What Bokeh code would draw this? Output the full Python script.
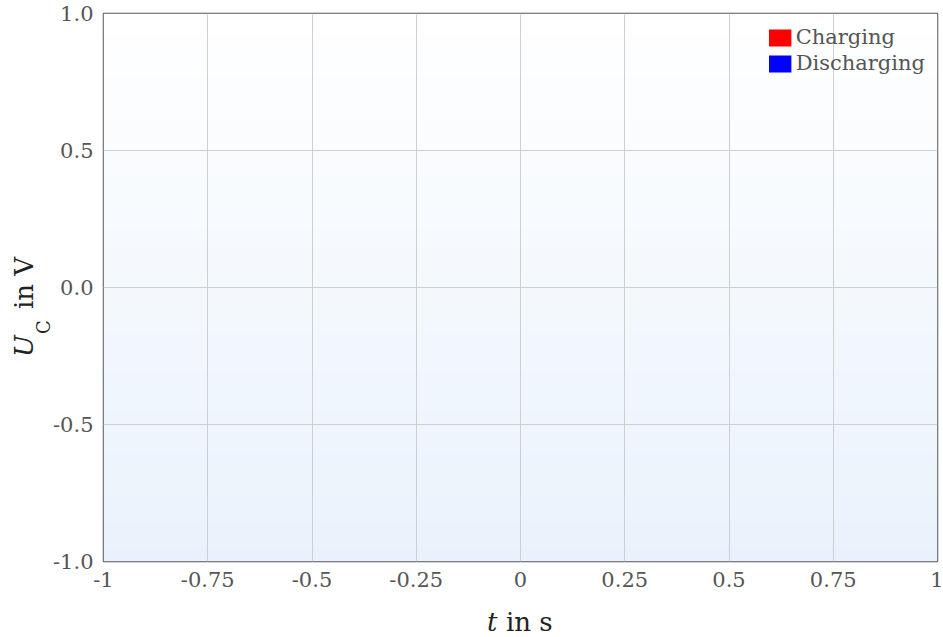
import numpy as np
from bokeh.plotting import figure
from bokeh.layouts import row, column
from bokeh.models import Legend, LegendItem, FixedTicker, Range1d, ColumnDataSource, Div
from bokeh.embed import file_html
from bokeh.resources import INLINE

# ---- data ----
x_range = [-1, 1]
y_range = [-1, 1]
x_ticks = [-1, -0.75, -0.5, -0.25, 0, 0.25, 0.5, 0.75, 1]
x_tick_labels = ["-1", "-0.75", "-0.5", "-0.25", "0", "0.25", "0.5", "0.75", "1"]
y_ticks = [-1.0, -0.5, 0.0, 0.5, 1.0]
y_tick_labels = ["-1.0", "-0.5", "0.0", "0.5", "1.0"]
series_names = ["Charging", "Discharging"]
series_colors = ["#ff0000", "#0000ff"]
# the reference shows no plotted points for either series
charging_t = [np.nan]
charging_u = [np.nan]
discharging_t = [np.nan]
discharging_u = [np.nan]

FONT = "DejaVu Serif"
YDIV_W = 50
FIG_H = 595
TOTAL_W = 943
TOTAL_H = 637

p = figure(width=TOTAL_W - YDIV_W, height=FIG_H, output_backend="svg", toolbar_location=None,
           x_range=Range1d(x_range[0], x_range[1]), y_range=Range1d(y_range[0], y_range[1]),
           min_border_left=52, min_border_right=6, min_border_top=13, min_border_bottom=34)

p.background_fill_color = "white"
p.border_fill_color = "white"
p.border_fill_alpha = 0
p.outline_line_color = "#555555"
p.outline_line_width = 1.5

# background gradient (decoration)
n = 128
grad = np.zeros((n, 1), dtype=np.uint32)
view = grad.view(dtype=np.uint8).reshape((n, 1, 4))
top_c = np.array([255, 255, 255], dtype=float)
bot_c = np.array([233, 242, 252], dtype=float)
for i in range(n):
    f = i / (n - 1)
    view[i, 0, :3] = np.round(bot_c + (top_c - bot_c) * f).astype(np.uint8)
    view[i, 0, 3] = 255
p.image_rgba(image=[grad], x=x_range[0], y=y_range[0],
             dw=x_range[1] - x_range[0], dh=y_range[1] - y_range[0], level="image")

# series (no visible data)
src_c = ColumnDataSource(dict(t=charging_t, u=charging_u))
src_d = ColumnDataSource(dict(t=discharging_t, u=discharging_u))
r_c = p.varea(x="t", y1=0, y2="u", source=src_c, fill_color=series_colors[0])
r_d = p.varea(x="t", y1=0, y2="u", source=src_d, fill_color=series_colors[1])

legend = Legend(items=[LegendItem(label=series_names[0], renderers=[r_c]),
                       LegendItem(label=series_names[1], renderers=[r_d])],
                location="top_right", margin=12, padding=0, spacing=2,
                glyph_width=28, glyph_height=21, label_standoff=2,
                label_text_font=FONT, label_text_font_size="21px", label_text_color="#555555",
                background_fill_alpha=0, border_line_alpha=0)
p.add_layout(legend)

# axes
p.xaxis.ticker = FixedTicker(ticks=x_ticks)
p.yaxis.ticker = FixedTicker(ticks=y_ticks)
p.xaxis.major_label_overrides = {float(v): l for v, l in zip(x_ticks, x_tick_labels)}
p.yaxis.major_label_overrides = {float(v): l for v, l in zip(y_ticks, y_tick_labels)}
p.xgrid.ticker = FixedTicker(ticks=x_ticks)
p.ygrid.ticker = FixedTicker(ticks=y_ticks)
p.grid.grid_line_color = "#cfcfcf"
p.grid.grid_line_width = 1
for ax in (p.xaxis, p.yaxis):
    ax.axis_line_color = None
    ax.major_tick_out = 0
    ax.major_tick_in = 0
    ax.minor_tick_out = 0
    ax.minor_tick_in = 0
    ax.major_label_text_font = FONT
    ax.major_label_text_font_size = "21px"
    ax.major_label_text_color = "#555555"
    ax.major_label_standoff = 10


def span(text, left, top, size, style="normal", rotate=False):
    tr = "transform-origin:0 0;transform:rotate(-90deg);" if rotate else ""
    return (f'<span style="position:absolute;left:{left}px;top:{top}px;'
            f'font-family:\'DejaVu Serif\';font-size:{size}px;font-style:{style};'
            f'line-height:1;white-space:nowrap;color:#222222;{tr}">{text}</span>')


y_html = ('<div style="position:relative;width:%dpx;height:%dpx;overflow:visible;">' % (YDIV_W, FIG_H)
          + span("U", 11, 357, 26, "italic", True)
          + span("C", 35, 334, 18, "normal", True)
          + span("in V", 11, 309, 26, "normal", True)
          + '</div>')
x_html = ('<div style="position:relative;width:%dpx;height:%dpx;">' % (TOTAL_W, TOTAL_H - FIG_H)
          + span("t", 487, 14, 26, "italic")
          + span("in s", 506, 14, 26, "normal")
          + '</div>')

ydiv = Div(text=y_html, width=YDIV_W, height=FIG_H, margin=0, styles={"overflow": "visible"})
xdiv = Div(text=x_html, width=TOTAL_W, height=TOTAL_H - FIG_H, margin=0)

layout = column(row(ydiv, p, spacing=0), xdiv, spacing=0)

open("out.html", "w").write(file_html(layout, INLINE))
